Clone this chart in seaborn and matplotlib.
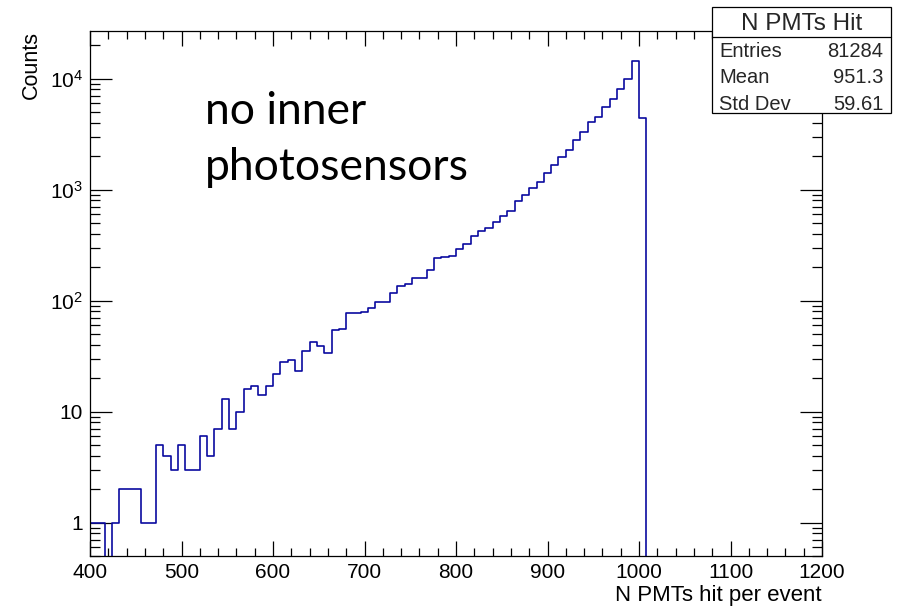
import numpy as np
import pandas as pd
import matplotlib
matplotlib.use("Agg")
import matplotlib.pyplot as plt
import seaborn as sns
from matplotlib.patches import Rectangle
from matplotlib.lines import Line2D
from matplotlib.ticker import FixedLocator, FixedFormatter, MultipleLocator, LogLocator, NullFormatter

# ---------------- data ----------------
bin_start = 400
bin_width = 8
counts = [1, 1, 0, 1, 2, 2, 2, 1, 1, 5,
          4, 3, 5, 3, 3, 6, 4, 7, 13, 7,
          10, 16, 17, 14, 17, 22, 28, 29, 23, 35,
          42, 39, 34, 54, 56, 77, 77, 79, 86, 97,
          98, 117, 135, 141, 159, 161, 189, 241, 249, 251,
          292, 324, 385, 427, 449, 512, 580, 647, 791, 891,
          1042, 1166, 1422, 1680, 1959, 2290, 2806, 3300, 4100, 4519,
          5596, 6520, 8128, 9931, 14350, 4427, 0, 0, 0, 0,
          0, 0, 0, 0, 0, 0, 0, 0, 0, 0,
          0, 0, 0, 0, 0, 0, 0, 0, 0, 0]
x_ticks = [400, 500, 600, 700, 800, 900, 1000, 1100, 1200]
y_ticks = [1, 10, 100, 1000, 10000]
y_tick_labels = ["1", "10", "$10^{2}$", "$10^{3}$", "$10^{4}$"]
x_title = "N PMTs hit per event"
y_title = "Counts"
stats_title = "N PMTs Hit"
stats_labels = ["Entries", "Mean", "Std Dev"]
stats_values = ["81284", "951.3", "59.61"]
annotation_lines = ["no inner", "photosensors"]

# ---------------- style ----------------
sns.set_theme(style="white")
plt.rcParams["font.family"] = ["Liberation Sans", "DejaVu Sans"]
plt.rcParams["mathtext.fontset"] = "custom"
plt.rcParams["mathtext.rm"] = "Liberation Sans"
plt.rcParams["mathtext.it"] = "Liberation Sans:italic"
plt.rcParams["mathtext.bf"] = "Liberation Sans:bold"

edges = [bin_start + bin_width * i for i in range(len(counts) + 1)]
centers = [e + bin_width / 2 for e in edges[:-1]]
df = pd.DataFrame({"nhit": centers, "counts": counts})

W, H = 904, 607
fig = plt.figure(figsize=(W / 100, H / 100), dpi=100)
ax = fig.add_axes([90 / W, 51 / H, 732 / W, 525.3 / H])

sns.histplot(data=df, x="nhit", weights="counts", bins=edges, element="step",
             fill=False, color="#0a0aa0", linewidth=1.2, ax=ax)
ax.set_yscale("log")
ax.set_xlim(400, 1200)
ax.set_ylim(0.5, 27000)

for s in ax.spines.values():
    s.set_color("black")
    s.set_linewidth(0.9)

ax.xaxis.set_major_locator(FixedLocator(x_ticks))
ax.xaxis.set_minor_locator(MultipleLocator(20))
ax.yaxis.set_major_locator(FixedLocator(y_ticks))
ax.yaxis.set_major_formatter(FixedFormatter(y_tick_labels))
ax.yaxis.set_minor_locator(LogLocator(base=10, subs=np.arange(2, 10), numticks=30))
ax.yaxis.set_minor_formatter(NullFormatter())

ax.tick_params(axis="x", which="major", direction="in", length=11, width=0.9,
               top=True, bottom=True, labelsize=15, pad=5, colors="black")
ax.tick_params(axis="x", which="minor", direction="in", length=5.8, width=0.9,
               top=True, bottom=True, colors="black")
ax.tick_params(axis="y", which="major", direction="in", length=15.8, width=0.9,
               left=True, right=True, labelsize=15, pad=5, colors="black")
ax.tick_params(axis="y", which="minor", direction="in", length=7.5, width=0.9,
               left=True, right=True, colors="black")

ax.set_xlabel(x_title, fontsize=16, loc="right", labelpad=2, color="black")
ax.set_ylabel(y_title, fontsize=15.5, loc="top", labelpad=5.5, color="black")

# annotation
fig.text(205 / W, 1 - 123.5 / H, annotation_lines[0], fontfamily="Lato",
         fontsize=32, va="baseline", ha="left", color="black")
fig.text(205 / W, 1 - 180 / H, annotation_lines[1], fontfamily="Lato",
         fontsize=32, va="baseline", ha="left", color="black")

# stats box
bx0, by0, bx1, by1 = 712, 7.3, 891, 113.3
fig.add_artist(Rectangle((bx0 / W, 1 - by1 / H), (bx1 - bx0) / W, (by1 - by0) / H,
                         transform=fig.transFigure, facecolor="white",
                         edgecolor="black", linewidth=0.9, zorder=10))
fig.add_artist(Line2D([bx0 / W, bx1 / W], [1 - 36.7 / H, 1 - 36.7 / H],
                      transform=fig.transFigure, color="black", linewidth=0.9, zorder=11))
fig.text((bx0 + bx1) / 2 / W, 1 - 30.5 / H, stats_title, fontsize=17.5, ha="center",
         va="baseline", zorder=12)
row_baselines = [56.7, 83.3, 110]
for lab, val, yb in zip(stats_labels, stats_values, row_baselines):
    fig.text(719 / W, 1 - yb / H, lab, fontsize=14.5, ha="left", va="baseline", zorder=12)
    fig.text(883.3 / W, 1 - yb / H, val, fontsize=14.5, ha="right", va="baseline", zorder=12)

fig.savefig("out.png", dpi=100)
